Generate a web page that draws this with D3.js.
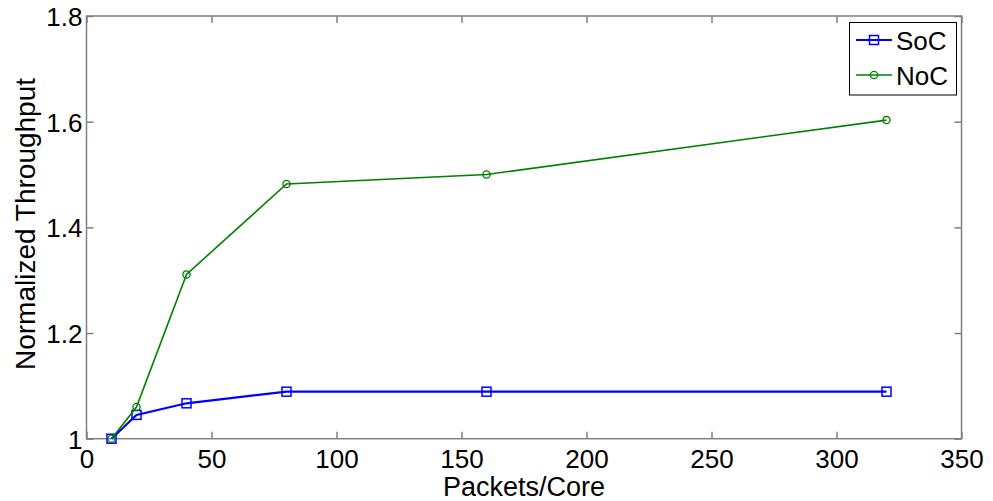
<!DOCTYPE html>
<html><head><meta charset="utf-8">
<script src="https://cdn.jsdelivr.net/npm/d3@7/dist/d3.min.js"></script>
<style>body{margin:0;background:#fff}svg{display:block}text{font-family:"Liberation Sans",Arial,sans-serif}</style>
</head><body>
<script>
const xValues = [10, 20, 40, 80, 160, 320];
const socValues = [1.0, 1.045, 1.067, 1.089, 1.089, 1.089];
const nocValues = [1.0, 1.06, 1.311, 1.482, 1.50, 1.603];
const seriesNames = ["SoC", "NoC"];
const xTicks = [0, 50, 100, 150, 200, 250, 300, 350];
const yTicks = [1, 1.2, 1.4, 1.6, 1.8];
const xTitle = "Packets/Core";
const yTitle = "Normalized Throughput";

const W = 993, H = 501;
const L = 86.5, R = 961.5, T = 16, B = 438.7;
const svg = d3.select("body").append("svg").attr("width", W).attr("height", H);
const x = d3.scaleLinear().domain([0, 350]).range([L, R]);
const y = d3.scaleLinear().domain([1, 1.8]).range([B, T]);
const axisColor = "#808080";

// box
svg.append("rect").attr("x", L).attr("y", T).attr("width", R - L).attr("height", B - T)
  .attr("fill", "none").attr("stroke", axisColor).attr("stroke-width", 1.5);

const fmtY = d => d === 1 ? "1" : d3.format(".1f")(d);
const xa = svg.append("g").attr("transform", `translate(0,${B})`)
  .call(d3.axisBottom(x).tickValues(xTicks).tickSize(-7).tickPadding(10).tickFormat(d3.format("d")));
const xaTop = svg.append("g").attr("transform", `translate(0,${T})`)
  .call(d3.axisTop(x).tickValues(xTicks).tickSize(-7).tickFormat(""));
const ya = svg.append("g").attr("transform", `translate(${L},0)`)
  .call(d3.axisLeft(y).tickValues(yTicks).tickSize(-7).tickPadding(4).tickFormat(fmtY));
const yaR = svg.append("g").attr("transform", `translate(${R},0)`)
  .call(d3.axisRight(y).tickValues(yTicks).tickSize(-7).tickFormat(""));
[xa, xaTop, ya, yaR].forEach(g => {
  g.select(".domain").remove();
  g.selectAll(".tick line").attr("stroke", axisColor).attr("stroke-width", 1.5);
  g.selectAll("text").attr("fill", "#000").style("font-size", "26px");
});
xa.selectAll("text").attr("dy", "0.75em");
ya.selectAll("text").attr("dy", "0.36em");

// titles
svg.append("text").attr("x", (L + R) / 2).attr("y", 496).attr("text-anchor", "middle")
  .style("font-size", "27px").text(xTitle);
svg.append("text").attr("transform", `translate(35,224) rotate(-90)`)
  .attr("text-anchor", "middle").style("font-size", "28px").text(yTitle);

const line = d3.line().x((d, i) => x(xValues[i])).y(d => y(d));
const series = [
  { name: seriesNames[0], values: socValues, color: "#0000ff", width: 2.2, marker: "square" },
  { name: seriesNames[1], values: nocValues, color: "#008000", width: 1.6, marker: "circle" }
];
function drawMarker(g, type, cx, cy, color) {
  if (type === "square") {
    g.append("rect").attr("x", cx - 4.5).attr("y", cy - 4.5).attr("width", 9).attr("height", 9)
      .attr("fill", "none").attr("stroke", color).attr("stroke-width", 1.5);
  } else {
    g.append("circle").attr("cx", cx).attr("cy", cy).attr("r", 3.6)
      .attr("fill", "none").attr("stroke", color).attr("stroke-width", 1.3);
  }
}
series.forEach(s => {
  svg.append("path").datum(s.values).attr("d", line).attr("fill", "none")
    .attr("stroke", s.color).attr("stroke-width", s.width);
  const g = svg.append("g");
  s.values.forEach((v, i) => drawMarker(g, s.marker, x(xValues[i]), y(v), s.color));
});

// legend
const lg = svg.append("g");
lg.append("rect").attr("x", 849.5).attr("y", 22.5).attr("width", 107).attr("height", 72.5)
  .attr("fill", "#fff").attr("stroke", "#000").attr("stroke-width", 1);
series.forEach((s, i) => {
  const cy = 40 + i * 35;
  lg.append("line").attr("x1", 856).attr("x2", 892).attr("y1", cy).attr("y2", cy)
    .attr("stroke", s.color).attr("stroke-width", s.width);
  drawMarker(lg, s.marker, 874, cy, s.color);
  lg.append("text").attr("x", 896).attr("y", cy).attr("dy", "0.4em")
    .style("font-size", "26px").text(s.name);
});
</script>
</body></html>
